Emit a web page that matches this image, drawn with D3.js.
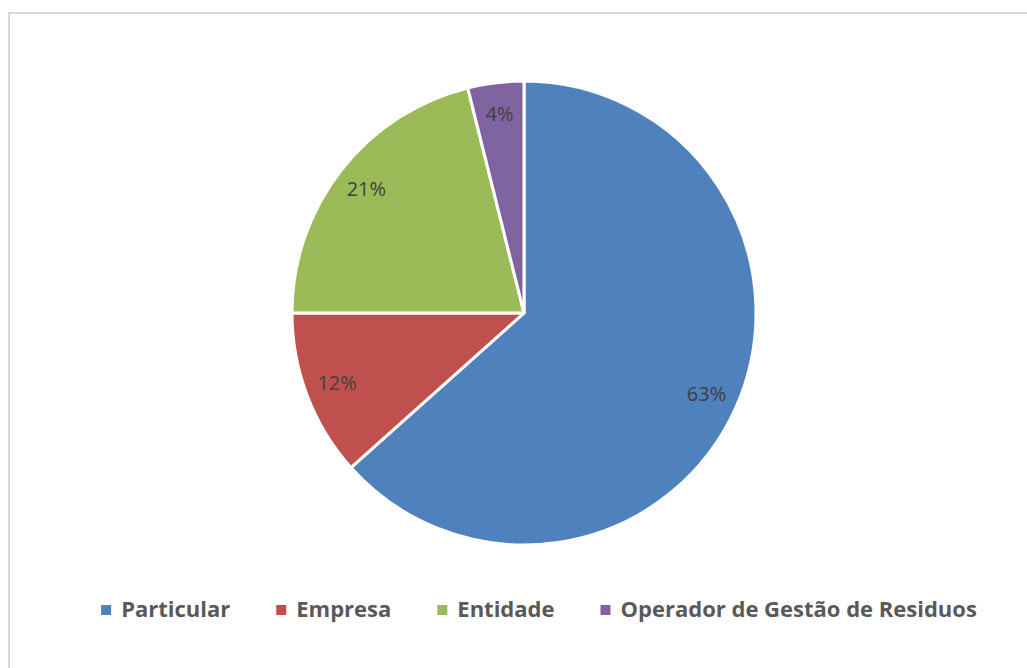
<!DOCTYPE html>
<html>
<script src="https://d3js.org/d3.v7.min.js"></script>

<head>
    <meta charset="utf-8">
    <style>
        body {
            margin: 0;
            background-color: #ffffff;
            font-family: "Open Sans", Arial, sans-serif;
        }

        svg {
            display: block;
        }
    </style>
</head>

<body>
</body>
<script>
    const width = 1027,
        height = 668;

    // data
    const categories = ["Particular", "Empresa", "Entidade", "Operador de Gestão de Residuos"];
    const shares = [63.4, 11.6, 21.1, 3.9];
    const colors = ["#4f81bd", "#c0504d", "#9bbb59", "#8064a2"];

    const svg = d3.select("body").append("svg").attr("width", width).attr("height", height);

    // chart frame
    svg.append("rect")
        .attr("x", 9)
        .attr("y", 13)
        .attr("width", width + 20)
        .attr("height", height + 20)
        .attr("fill", "none")
        .attr("stroke", "#d9d9d9")
        .attr("stroke-width", 2);

    const cx = 524,
        cy = 313,
        r = 232;

    const data = categories.map((c, i) => ({ name: c, value: shares[i], color: colors[i] }));
    const pie = d3.pie().sort(null).value(d => d.value);
    const arc = d3.arc().innerRadius(0).outerRadius(r);
    const labelArc = d3.arc().innerRadius(200).outerRadius(200);

    const g = svg.append("g").attr("transform", `translate(${cx},${cy})`);
    const slices = pie(data);

    g.selectAll("path")
        .data(slices)
        .join("path")
        .attr("d", arc)
        .attr("fill", d => d.data.color)
        .attr("stroke", "#ffffff")
        .attr("stroke-width", 3)
        .attr("stroke-linejoin", "round");

    g.selectAll("text.pct")
        .data(slices)
        .join("text")
        .attr("class", "pct")
        .attr("x", d => labelArc.centroid(d)[0])
        .attr("y", d => labelArc.centroid(d)[1])
        .attr("dy", "0.3em")
        .attr("text-anchor", "middle")
        .attr("font-size", "20px")
        .attr("fill", "#404040")
        .text(d => Math.round(d.data.value) + "%");

    // legend
    const legend = svg.append("g").attr("transform", "translate(0,610)");
    const items = legend.selectAll("g")
        .data(data)
        .join("g");
    items.append("rect")
        .attr("x", 0)
        .attr("y", -5)
        .attr("width", 10)
        .attr("height", 10)
        .attr("fill", d => d.color);
    items.append("text")
        .attr("x", 20)
        .attr("y", 7)
        .attr("font-size", "22px")
        .attr("font-weight", "bold")
        .attr("fill", "#595959")
        .text(d => d.name);

    const gap = 46;
    let x = 0;
    const offsets = [];
    items.each(function () {
        offsets.push(x);
        const w = d3.select(this).select("text").node().getComputedTextLength();
        x += 20 + w + gap;
    });
    const total = x - gap;
    const start = 539 - total / 2;
    items.attr("transform", (d, i) => `translate(${start + offsets[i]},0)`);
</script>

</html>
